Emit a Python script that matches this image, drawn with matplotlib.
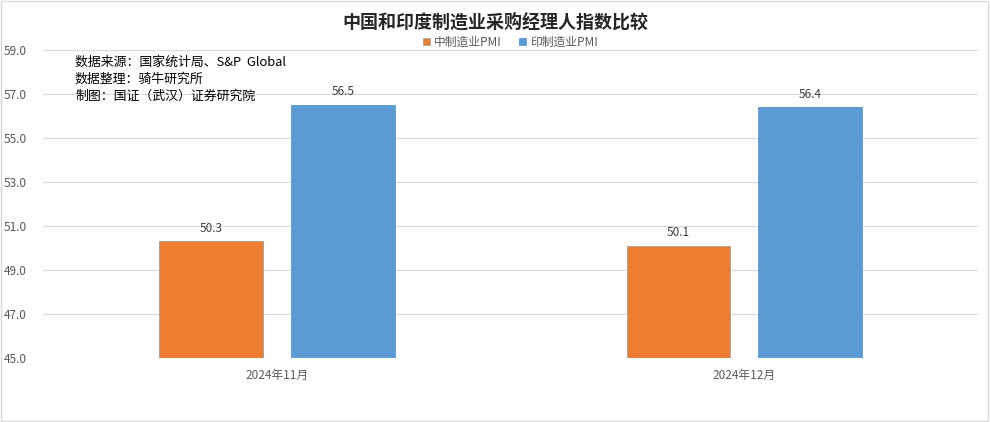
import numpy as np
import matplotlib.pyplot as plt
from matplotlib.patches import Rectangle

plt.rcParams['font.family'] = ['Noto Sans CJK SC', 'DejaVu Sans']

categories = ['2024年11月', '2024年12月']
china_pmi = [50.3, 50.1]
india_pmi = [56.5, 56.4]
series_names = ['中制造业PMI', '印制造业PMI']
notes = ['数据来源：国家统计局、S&P  Global', '数据整理：骑牛研究所', '制图：国证（武汉）证券研究院']
base = 45

fig = plt.figure(figsize=(9.9, 4.22), dpi=100)
fig.patches.append(Rectangle((0.001, 0.002), 0.997, 0.995, transform=fig.transFigure,
                             fill=False, edgecolor='#d9d9d9', linewidth=1))
ax = fig.add_axes([0.0434, 0.1517, 0.9446, 0.7298])

x = np.arange(len(categories))
w = 0.222
off = 0.141
b1 = ax.bar(x - off, np.array(china_pmi) - base, w, bottom=base, color='#ED7D31',
            edgecolor='#a0a0a0', linewidth=0.6, zorder=3)
b2 = ax.bar(x + off, np.array(india_pmi) - base, w, bottom=base, color='#5B9BD5',
            edgecolor='#5B9BD5', linewidth=0.6, zorder=3)
for r, v in zip(list(b1) + list(b2), china_pmi + india_pmi):
    ax.text(r.get_x() + r.get_width() / 2, v + 0.3, f'{v:.1f}', ha='center', va='bottom',
            fontsize=8.5, color='#404040')

ax.set_xlim(-0.5, 1.5)
ax.set_ylim(45, 59)
yt = np.arange(45, 59.1, 2)
ax.set_yticks(yt)
ax.set_yticklabels([f'{v:.1f}' for v in yt])
ax.set_xticks(x)
ax.set_xticklabels(categories)
ax.tick_params(axis='both', length=0, labelsize=8.5, labelcolor='#595959')
ax.tick_params(axis='y', pad=12)
ax.tick_params(axis='x', pad=8)
ax.grid(axis='y', color='#d9d9d9', linewidth=0.8, zorder=0)
for s in ax.spines.values():
    s.set_visible(False)
ax.axhline(45, color='#d9d9d9', linewidth=0.8, zorder=4)

fig.text(0.5, 0.948, '中国和印度制造业采购经理人指数比较', ha='center', va='center',
         fontsize=13, fontweight='bold', color='#262626')

ax.legend([b1, b2], series_names, loc='lower center', bbox_to_anchor=(0.5, 0.97),
          ncol=2, frameon=False, fontsize=8.5, handlelength=0.6, handleheight=0.6,
          columnspacing=1.5, handletextpad=0.3, labelcolor='#595959')

for i, t in enumerate(notes):
    fig.text(0.0757, 0.853 - i * 0.0403, t, ha='left', va='center', fontsize=9.3, color='black')

fig.savefig('out.png', dpi=100)
